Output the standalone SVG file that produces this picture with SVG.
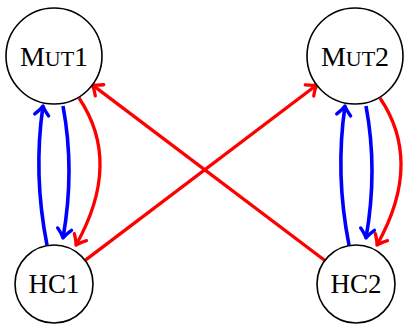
<svg xmlns="http://www.w3.org/2000/svg" width="405" height="325" viewBox="0 0 405 325">
<style>
.node circle{fill:#fff;stroke:#000;stroke-width:1.6}
.node text{font-family:"Liberation Serif","DejaVu Serif",serif;text-anchor:middle;fill:#000}
.mut{font-size:28px}
.hc{font-size:27px}
.sc{font-size:22px}
.b{fill:none;stroke:#0000ff;stroke-width:3.6}
.r{fill:none;stroke:#ff0000;stroke-width:3.3}
</style>
<defs>
<marker id="ab" markerUnits="userSpaceOnUse" markerWidth="24" markerHeight="24" viewBox="-12 -12 24 24" refX="0" refY="0" orient="auto" overflow="visible">
<path d="M-9,-7 Q-3.5,-1.8 0,0 Q-3.5,1.8 -9,7" fill="none" stroke="#0000ff" stroke-width="3.4" stroke-linecap="round" stroke-linejoin="round"/>
</marker>
<marker id="ar" markerUnits="userSpaceOnUse" markerWidth="24" markerHeight="24" viewBox="-12 -12 24 24" refX="0" refY="0" orient="auto" overflow="visible">
<path d="M-9,-7 Q-3.5,-1.8 0,0 Q-3.5,1.8 -9,7" fill="none" stroke="#ff0000" stroke-width="3.3" stroke-linecap="round" stroke-linejoin="round"/>
</marker>
</defs>
<g id="connectors">
<path class="b" d="M47,245 Q33,174 43,106" marker-end="url(#ab)"/>
<path class="b" d="M63,106 Q75,170 63,238" marker-end="url(#ab)"/>
<path class="r" d="M79,98 Q122.5,162.5 76,245" marker-end="url(#ar)"/>
<path class="b" d="M349,245 Q335,174 345,106" marker-end="url(#ab)"/>
<path class="b" d="M366,106 Q378,170 366,238" marker-end="url(#ab)"/>
<path class="r" d="M380,98 Q423.5,162.5 377,245" marker-end="url(#ar)"/>
<path class="r" d="M85.1,260.4 L316.7,85" marker-end="url(#ar)"/>
<path class="r" d="M324.9,260.5 L92.3,84.9" marker-end="url(#ar)"/>
</g>
<g id="Mut1" class="node">
<circle cx="54" cy="56" r="48"/>
<text class="mut" x="54" y="66">M<tspan class="sc">UT</tspan>1</text>
</g>
<g id="Mut2" class="node">
<circle cx="355" cy="56" r="48"/>
<text class="mut" x="355" y="66">M<tspan class="sc">UT</tspan>2</text>
</g>
<g id="HC1" class="node">
<circle cx="54" cy="284" r="39"/>
<text class="hc" x="54" y="292.5">HC1</text>
</g>
<g id="HC2" class="node">
<circle cx="356" cy="284" r="39"/>
<text class="hc" x="356" y="292.5">HC2</text>
</g>
</svg>
